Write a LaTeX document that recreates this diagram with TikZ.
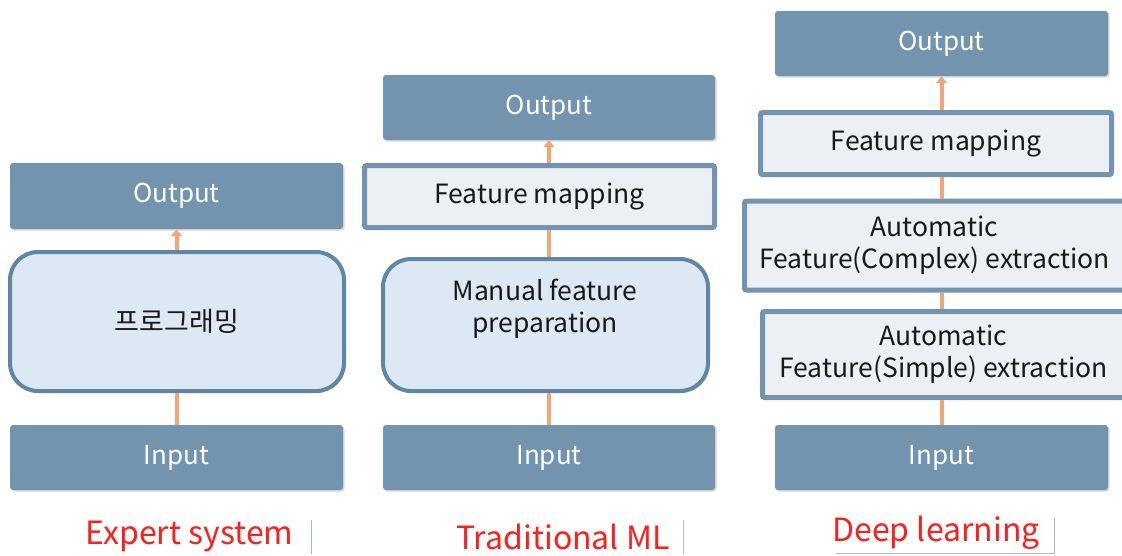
\documentclass[tikz,border=0pt]{standalone}
\usepackage{fontspec}
\setmainfont{Noto Sans CJK KR}
\usetikzlibrary{arrows.meta,shadows}
\definecolor{slate}{HTML}{7394AE}
\definecolor{slateedge}{HTML}{5F86A3}
\definecolor{palefill}{HTML}{DDE8F5}
\definecolor{greyfill}{HTML}{ECEFF3}
\definecolor{flow}{HTML}{F2A678}
\definecolor{labred}{HTML}{FF1E1E}
\definecolor{rulegrey}{HTML}{A9B8C8}
\tikzset{
  solid box/.style={fill=slate, draw=none, rounded corners=3pt, inner sep=0pt,
    text=white, font=\fontsize{26}{30}\selectfont,
    drop shadow={shadow xshift=1.5pt, shadow yshift=-1.5pt, opacity=0.25, fill=black!60}},
  soft box/.style={fill=palefill, draw=slateedge, line width=4pt, rounded corners=28pt,
    inner sep=0pt, text=black!90, align=center, font=\fontsize{27}{32}\selectfont,
    drop shadow={shadow xshift=1.5pt, shadow yshift=-2pt, opacity=0.25, fill=black!60}},
  stage box/.style={fill=greyfill, draw=slate, line width=5pt, rounded corners=2pt,
    inner sep=0pt, text=black!90, align=center, font=\fontsize{26.5}{32}\selectfont},
  flow line/.style={draw=flow, line width=4pt},
  flow arrow/.style={flow line, -{Triangle[width=11pt,length=7pt]}},
  caption/.style={text=labred, inner sep=0pt, font=\fontsize{32}{36}\selectfont},
  caption rule/.style={draw=rulegrey, line width=1pt}
}
\begin{document}
\begin{tikzpicture}[x=1pt,y=-1pt]
\useasboundingbox[fill=white] (0,0) rectangle (1122,555);

% --- Expert system ---
\node[solid box, minimum width=333, minimum height=66] (out1) at (176.5,196) {Output};
\node[soft box, minimum width=334, minimum height=139] (prog1) at (177,321.5) {프로그래밍};
\node[solid box, minimum width=333, minimum height=65] (in1) at (176.5,457.5) {Input};
\draw[flow line] (in1.north) -- (in1.north |- prog1.south);
\draw[flow arrow] (in1.north |- prog1.north) -- (in1.north |- out1.south);
\node[caption] (cap1) at (189.5,537) {Expert system};
\draw[caption rule] (311,520) -- (311,554);

% --- Traditional ML ---
\node[solid box, minimum width=332, minimum height=65] (out2) at (549,107.5) {Output};
\node[stage box, minimum width=350, minimum height=62] (fm2) at (539.5,196.5) {Feature mapping};
\node[soft box, minimum width=325, minimum height=132] (man2) at (545.5,325) {};
\node[align=center, text=black!90, font=\fontsize{26.5}{32}\selectfont, inner sep=0pt] (mantext) at (545,309) {Manual feature\\preparation};
\node[solid box, minimum width=332, minimum height=65] (in2) at (549,457.5) {Input};
\draw[flow line] (in2.north) -- (in2.north |- man2.south);
\draw[flow line] (in2.north |- man2.north) -- (in2.north |- fm2.south);
\draw[flow arrow] (in2.north |- fm2.north) -- (out2.south);
\node[caption] (cap2) at (563,537) {Traditional ML};
\draw[caption rule] (683,520) -- (683,554);

% --- Deep learning ---
\node[solid box, minimum width=333, minimum height=65] (out3) at (941.5,43.5) {Output};
\node[stage box, minimum width=351, minimum height=62] (fm3) at (936,143.5) {Feature mapping};
\node[stage box, minimum width=380, minimum height=89] (cx3) at (934.5,245.5) {Automatic\\Feature(Complex) extraction};
\node[stage box, minimum width=362, minimum height=86] (sm3) at (943.5,354.5) {Automatic\\Feature(Simple) extraction};
\node[solid box, minimum width=333, minimum height=65] (in3) at (941.5,457.5) {Input};
\draw[flow line] (in3.north) -- (in3.north |- sm3.south);
\draw[flow line] (in3.north |- sm3.north) -- (in3.north |- cx3.south);
\draw[flow line] (in3.north |- cx3.north) -- (in3.north |- fm3.south);
\draw[flow arrow] (in3.north |- fm3.north) -- (out3.south);
\node[caption] (cap3) at (936,533) {Deep learning};
\draw[caption rule] (1054,518) -- (1054,554) (836,553) -- (1054,553);
\end{tikzpicture}
\end{document}
